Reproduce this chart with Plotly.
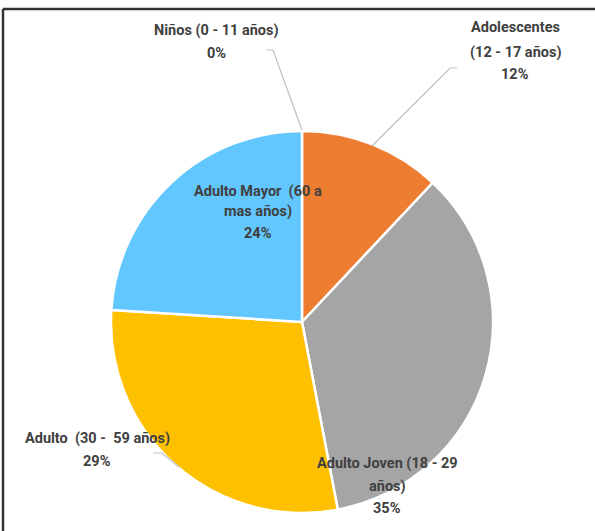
import plotly.graph_objects as go

categories = ["Niños (0 - 11 años)", "Adolescentes (12 - 17 años)", "Adulto Joven (18 - 29 años)",
              "Adulto (30 - 59 años)", "Adulto Mayor (60 a mas años)"]
values = [0, 12, 35, 29, 24]
label_lines = [
    ["Niños (0 - 11 años)", "0%"],
    ["Adolescentes", "(12 - 17 años)", "12%"],
    ["Adulto Joven (18 - 29", "años)", "35%"],
    ["Adulto  (30 -  59 años)", "29%"],
    ["Adulto Mayor  (60 a", "mas años)", "24%"],
]
colors = ["#5B9BD5", "#ED7D31", "#A5A5A5", "#FFC000", "#63C7FF"]

W, H = 595, 531
cx, cy, r = 302, 322, 191

def px(x):
    return x / W

def py(y):
    return 1 - y / H

fig = go.Figure(go.Pie(
    labels=categories, values=values, sort=False, direction="clockwise", rotation=0,
    marker=dict(colors=colors, line=dict(color="white", width=2.5)),
    textinfo="none", hoverinfo="label+percent",
    domain=dict(x=[px(cx - r), px(cx + r)], y=[py(cy + r), py(cy - r)]),
    showlegend=False,
))

# label block positions: x centre and y of each line (pixels)
label_x = [216, 515, 387, 97, 258]
label_y = [[31, 53], [28, 52, 74], [463, 486, 508], [438, 461], [191, 212, 234]]
font = dict(family="Roboto, Arial", size=14.5, color="#404040", weight="bold")
for lines, x, ys in zip(label_lines, label_x, label_y):
    for txt, y in zip(lines, ys):
        fig.add_annotation(x=px(x), y=py(y), xref="paper", yref="paper", text=txt, showarrow=False,
                           font=font, align="center", xanchor="center", yanchor="middle")

# leader lines
leaders = [
    [(266, 50), (273, 50), (302, 130)],
    [(457, 68), (450, 68), (372, 146)],
    [(153, 453), (162, 453), (179, 467)],
]
for pts in leaders:
    path = "M " + " L ".join(f"{px(x)},{py(y)}" for x, y in pts)
    fig.add_shape(type="path", path=path, xref="paper", yref="paper",
                  line=dict(color="#BFBFBF", width=1.2))

# frame border (top and left)
fig.add_shape(type="line", xref="paper", yref="paper", x0=px(3), x1=1.0, y0=py(9), y1=py(9),
              line=dict(color="#333333", width=2.5))
fig.add_shape(type="line", xref="paper", yref="paper", x0=px(3), x1=px(3), y0=py(9), y1=0,
              line=dict(color="#333333", width=2.5))

fig.update_layout(width=W, height=H, margin=dict(l=0, r=0, t=0, b=0),
                  paper_bgcolor="white", plot_bgcolor="white")
fig.write_html("out.html", config={"displayModeBar": False},
               post_script="document.body.style.margin='0';document.body.style.overflow='hidden';")
